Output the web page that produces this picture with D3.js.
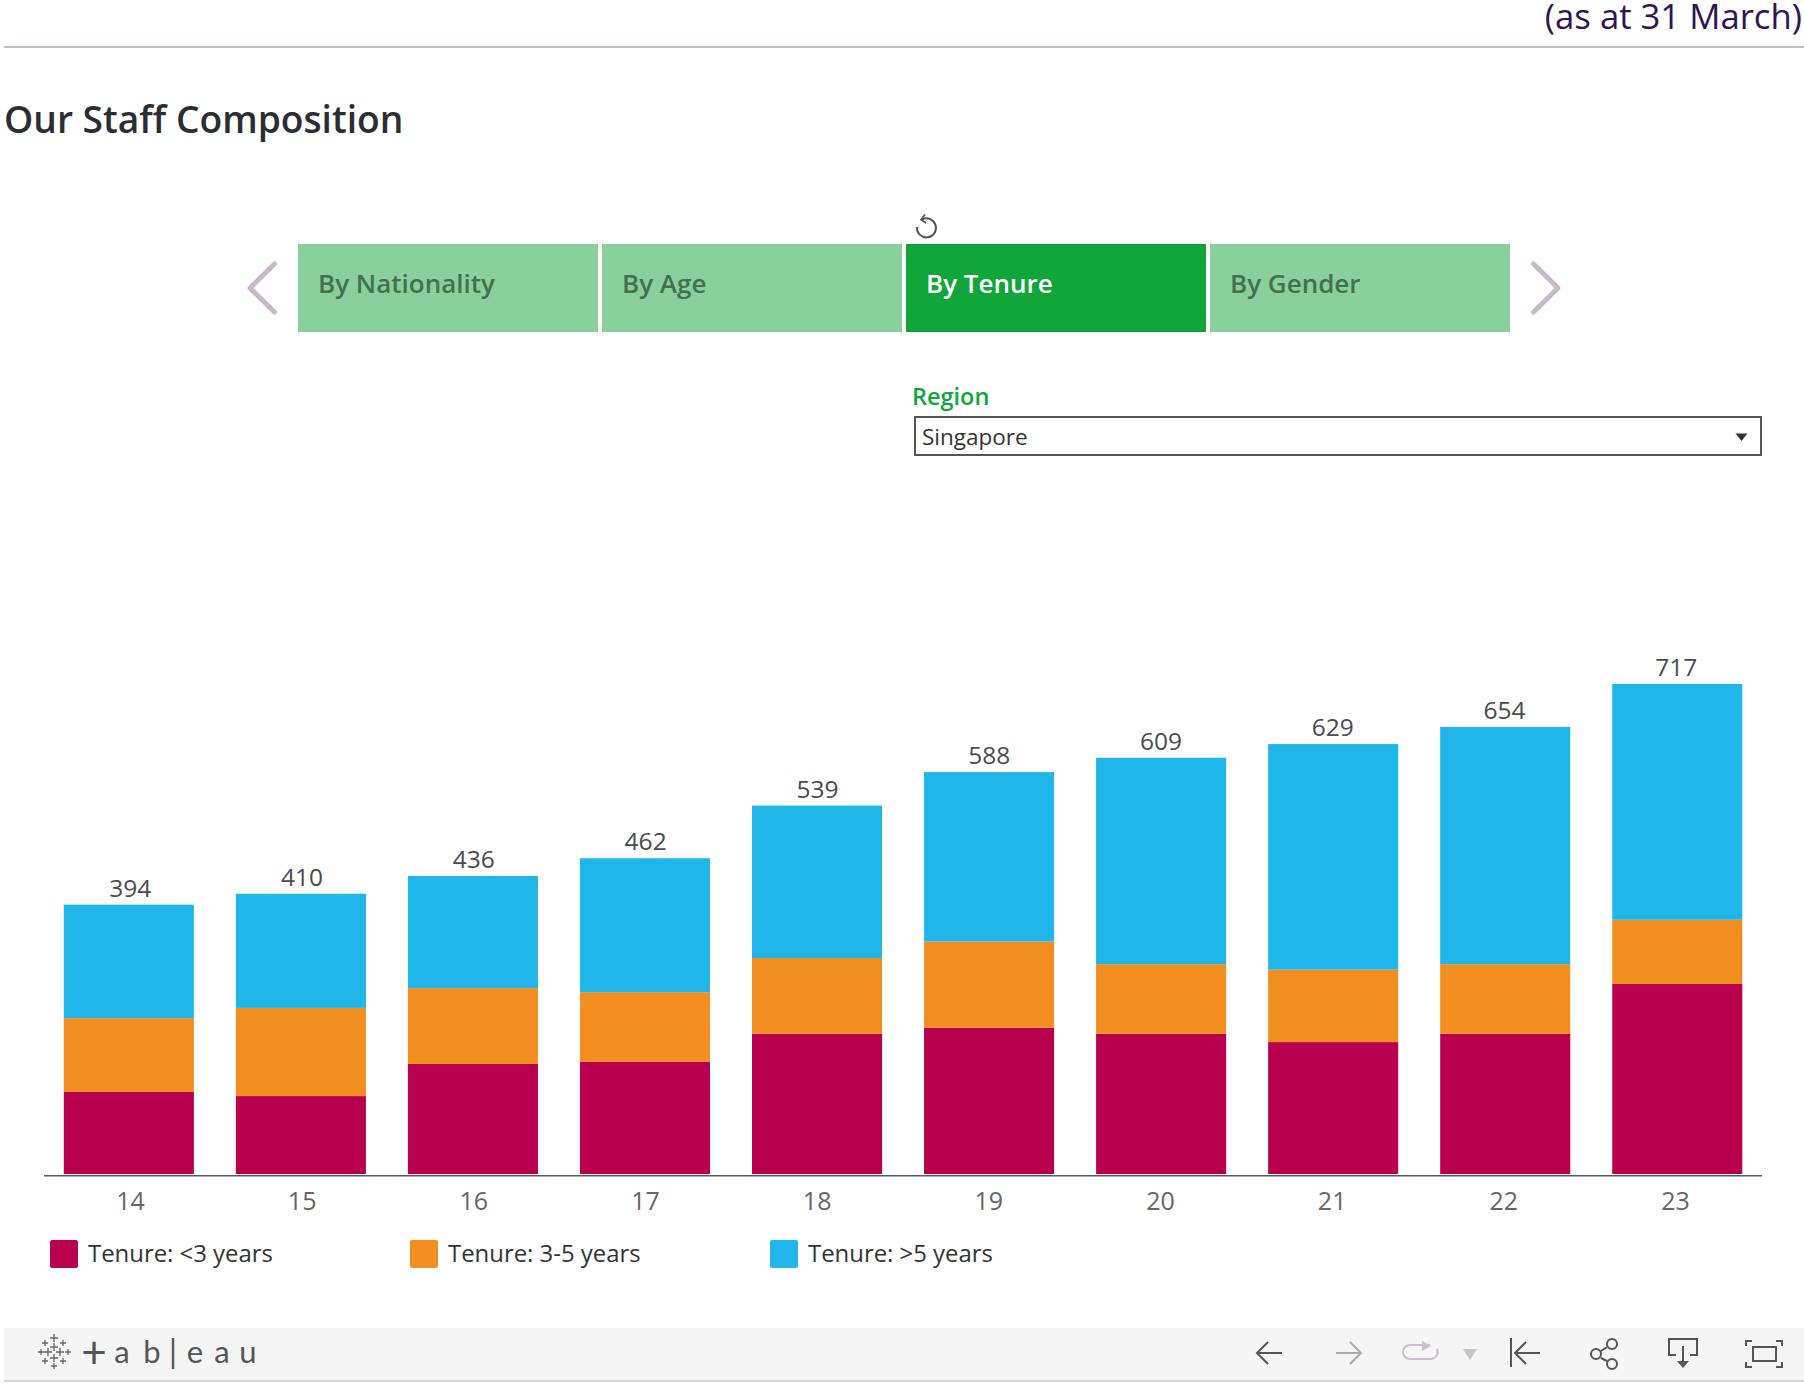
<!DOCTYPE html>
<html><head><meta charset="utf-8">
<script src="https://cdn.jsdelivr.net/npm/d3@7/dist/d3.min.js"></script>
<style>html,body{margin:0;padding:0;background:#fff;overflow:hidden}svg{display:block}text{font-family:"Open Sans",sans-serif}</style>
</head><body><svg id="c" width="1804" height="1392"></svg>
<script>
const years=["14","15","16","17","18","19","20","21","22","23"];
const tenureUnder3=[120,114,161,164,205,214,205,193,205,278];
const tenure3to5=[108,129,111,102,111,126,102,106,102,94];
const tenureOver5=[166,167,164,196,223,248,302,330,347,345];
const seriesNames=["Tenure: <3 years","Tenure: 3-5 years","Tenure: >5 years"];
const seriesColors=["#b9004e","#f28e1f","#21b6e9"];
const tabs=["By Nationality","By Age","By Tenure","By Gender"];
const activeTab="By Tenure";

const svg=d3.select("#c");
const rows=years.map((y,i)=>({year:y,a:tenureUnder3[i],b:tenure3to5[i],c:tenureOver5[i]}));
const stack=d3.stack().keys(["a","b","c"])(rows);
const x=d3.scaleBand().domain(years).range([63.8,1742.3]).paddingInner(0.244).paddingOuter(0);
const y=d3.scaleLinear().domain([0,800]).range([1174,627.2]);
const color=d3.scaleOrdinal().domain(["a","b","c"]).range(seriesColors);
// label centres sit on a slightly tighter grid than the bars in the reference
const labelX=d3.scalePoint().domain(years).range([130.3,1676.3]);
const tickX=d3.scalePoint().domain(years).range([130,1675]);

// header
svg.append("text").attr("x",1802).attr("y",29).attr("text-anchor","end").attr("font-size",34.7).attr("fill","#2f1457").text("(as at 31 March)");
svg.append("rect").attr("x",4).attr("y",46).attr("width",1800).attr("height",2).attr("fill","#c6b8cf");
svg.append("text").attr("x",4).attr("y",133).attr("font-size",37.2).attr("font-weight",600).attr("fill","#2b2d33").text("Our Staff Composition");

// tabs
const tabX=d3.scaleBand().domain(tabs).range([298,1510]).paddingInner(0.0132);
svg.selectAll("rect.tab").data(tabs).join("rect").attr("class","tab")
 .attr("x",d=>tabX(d)).attr("y",244).attr("width",tabX.bandwidth()).attr("height",88)
 .attr("fill",d=>d===activeTab?"#10a63a":"#8ad09d");
svg.selectAll("text.tab").data(tabs).join("text").attr("class","tab")
 .attr("x",d=>tabX(d)+20).attr("y",293).attr("font-size",26).attr("font-weight",600)
 .attr("fill",d=>d===activeTab?"#fff":"#44704f").text(d=>d);
const chev=svg.append("g").attr("fill","none").attr("stroke","#c6b8cf").attr("stroke-width",5).attr("stroke-linecap","round").attr("stroke-linejoin","round");
chev.append("path").attr("d","M274.5 264L250 288L274.5 312");
chev.append("path").attr("d","M1533.5 264L1558 288L1533.5 312");
// reset icon
const ic=svg.append("g").attr("fill","none").attr("stroke","#555").attr("stroke-width",2);
ic.append("path").attr("d","M922 219.5A9.5 9.5 0 1 1 917 227");
ic.append("path").attr("d","M925 214.5L921 219.5L926 223").attr("stroke-width",1.8);

// region filter
svg.append("text").attr("x",912).attr("y",405).attr("font-size",23.5).attr("font-weight",600).attr("fill","#10a63a").text("Region");
svg.append("rect").attr("x",915).attr("y",417).attr("width",846).attr("height",38).attr("fill","#fff").attr("stroke","#555").attr("stroke-width",2);
svg.append("text").attr("x",922).attr("y",445).attr("font-size",22.5).attr("fill","#333").text("Singapore");
svg.append("path").attr("d","M1735.5 433.5H1747.5L1741.5 441Z").attr("fill","#333");

// bars
svg.append("g").selectAll("g").data(stack).join("g").attr("fill",d=>color(d.key))
 .selectAll("rect").data(d=>d).join("rect")
 .attr("x",d=>x(d.data.year)).attr("width",x.bandwidth())
 .attr("y",d=>y(d[1])).attr("height",d=>y(d[0])-y(d[1]));
svg.append("g").selectAll("text").data(rows).join("text")
 .attr("x",d=>labelX(d.year)).attr("y",d=>y(d.a+d.b+d.c)-8)
 .attr("text-anchor","middle").attr("font-size",24.5).attr("font-weight",500).attr("fill","#4a4a4f")
 .text(d=>d.a+d.b+d.c);

// axis
svg.append("rect").attr("x",44).attr("y",1175).attr("width",1718).attr("height",1.5).attr("fill","#5a5a5a");
const ax=svg.append("g").attr("transform","translate(0,1175)").call(d3.axisBottom(tickX).tickSize(0).tickPadding(17));
ax.select(".domain").remove();
ax.selectAll("text").attr("font-size",25).attr("font-family","'Open Sans',sans-serif").attr("fill","#666").attr("dy","0.71em");

// legend
const legX=d3.scalePoint().domain(seriesNames).range([50,770]);
const leg=svg.append("g").selectAll("g").data(seriesNames).join("g").attr("transform",d=>`translate(${legX(d)},1240)`);
leg.append("rect").attr("width",28).attr("height",28).attr("rx",2).attr("fill",(d,i)=>seriesColors[i]);
leg.append("text").attr("x",38).attr("y",22).attr("font-size",23.9).attr("fill","#333").text(d=>d);

// toolbar
svg.append("rect").attr("x",4).attr("y",1328).attr("width",1800).attr("height",52).attr("fill","#f5f5f5");
svg.append("rect").attr("x",4).attr("y",1380).attr("width",1800).attr("height",2).attr("fill","#d6d6d6");
const logo=svg.append("g").attr("stroke","#666").attr("stroke-width",1.3).attr("transform","translate(1,0)");
[[53,1338,4],[44,1343,3],[62,1343,3],[53,1347,4],[40,1352,3],[47,1352,4],[59,1352,4],[67,1352,3],[53,1358,4],[44,1361,3],[62,1361,3],[53,1366,3]].forEach(([a,b,r])=>{
 logo.append("path").attr("d",`M${a-r} ${b}H${a+r}M${a} ${b-r}V${b+r}`);
});
const letters=[["+",94],["a",122],["b",152],["|",173],["e",195],["a",222],["u",248]];
svg.append("g").selectAll("text").data(letters).join("text").attr("x",d=>d[1]).attr("y",d=>d[0]==="+"?1368:1363).attr("text-anchor","middle")
 .attr("font-size",d=>d[0]==="+"?44:d[0]==="|"?32:31).attr("font-weight",400).attr("fill","#555").style("font-family","Lato,sans-serif").text(d=>d[0]);

const t=svg.append("g").attr("fill","none").attr("stroke","#555").attr("stroke-width",2);
t.append("path").attr("d","M1282 1353H1257M1268 1342L1257 1353L1268 1364");
t.append("path").attr("d","M1336 1353H1361M1350 1342L1361 1353L1350 1364").attr("stroke","#aaa");
t.append("path").attr("d","M1430 1345H1410A7 7 0 0 0 1410 1359H1431A7 7 0 0 0 1437 1349").attr("stroke","#cbbfd3");
svg.append("path").attr("d","M1422 1341L1431 1346L1422 1351Z").attr("fill","#cbbfd3");
svg.append("path").attr("d","M1463 1349H1477L1470 1360Z").attr("fill","#cbbfd3");
t.append("path").attr("d","M1511 1338V1367M1540 1353H1515M1526 1342L1515 1353L1526 1364");
t.append("path").attr("d","M1607 1347L1601 1351M1601 1358L1607 1361");
t.append("circle").attr("cx",1612).attr("cy",1344).attr("r",5);
t.append("circle").attr("cx",1596).attr("cy",1354).attr("r",5);
t.append("circle").attr("cx",1612).attr("cy",1364).attr("r",5);
t.append("path").attr("d","M1676 1355H1669V1339H1697V1355H1690M1683 1346V1362");
svg.append("path").attr("d","M1677 1361H1689L1683 1368Z").attr("fill","#555");
t.append("path").attr("d","M1746 1346V1341H1752M1776 1341H1782V1346M1782 1362V1367H1776M1752 1367H1746V1362");
t.append("rect").attr("x",1753).attr("y",1347).attr("width",23).attr("height",14);
</script></body></html>
